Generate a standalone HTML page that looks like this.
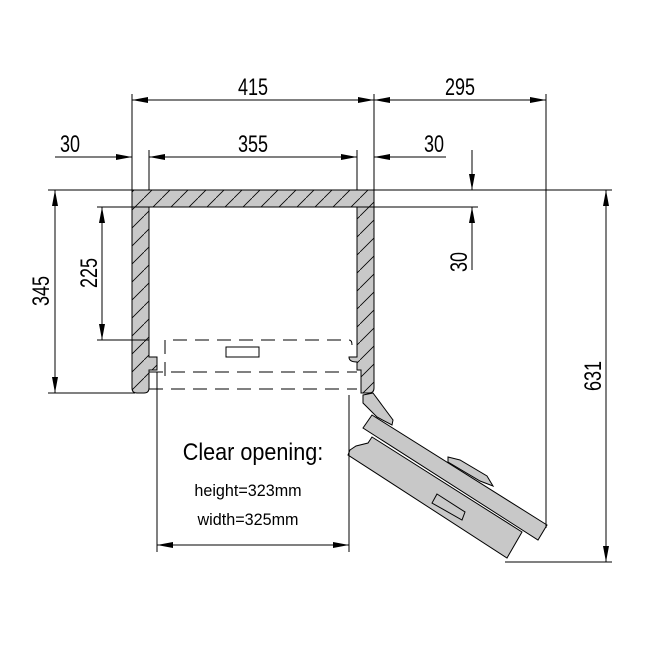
<!DOCTYPE html>
<html><head><style>body{margin:0;background:#fff}svg{display:block}text{font-family:"Liberation Sans",sans-serif;fill:#000}</style></head><body>
<svg width="666" height="666" viewBox="0 0 666 666" xmlns="http://www.w3.org/2000/svg">
<defs>
<pattern id="h" width="18" height="18" patternUnits="userSpaceOnUse">
<rect width="18" height="18" fill="#c8c8c8"/>
<line x1="0" y1="18" x2="18" y2="0" stroke="#000" stroke-width="0.8"/>
</pattern>
<marker id="a" markerWidth="16" markerHeight="6" refX="16" refY="3" orient="auto-start-reverse" markerUnits="userSpaceOnUse"><path d="M0,0 L16,3 L0,6z" fill="#000"/></marker>
</defs>
<g stroke="#000" stroke-width="1" fill="none">
<path d="M132,190 H374 V388 Q374,393 369,393 H361 V370 H357 V362 Q349,362 349,357 H357 V207 H149 V357 H157 V370 H149 V388 Q149,393 144,393 H137 Q132,393 132,388 Z" fill="url(#h)"/>
<path d="M165,376 V340 H349 Q352,340 352,345" stroke-dasharray="14,8"/>
<line x1="149" y1="372" x2="357" y2="372" stroke-dasharray="14,8"/>
<line x1="149" y1="389" x2="357" y2="389" stroke-dasharray="14,8"/>
<rect x="226" y="347" width="33" height="10"/>
<path d="M363,395 L373,393 L393,420 L392,425 L377,417 L363,403 Z" fill="#c8c8c8"/>
<path d="M350,450 L356,446 L368,443 L372,437 L522,532 L507,558 L348,455 Z" fill="#c8c8c8"/>
<path d="M372,415 L547,525 L538,540 L363,428 Z" fill="#c8c8c8"/>
<path d="M448,457 L460,460 L487,476 L493,486 L480,481 L448,462 Z" fill="#c8c8c8"/>
<path d="M437,494 L465,512 L462,520 L432,503 Z" fill="#c8c8c8"/>
<line x1="132" y1="94" x2="132" y2="190"/>
<line x1="374" y1="94" x2="374" y2="190"/>
<line x1="546" y1="94" x2="546" y2="528"/>
<line x1="149" y1="150" x2="149" y2="190"/>
<line x1="357" y1="150" x2="357" y2="190"/>
<line x1="48" y1="190" x2="612" y2="190"/>
<line x1="48" y1="393" x2="135" y2="393"/>
<line x1="97" y1="207" x2="478" y2="207"/>
<line x1="97" y1="340" x2="149" y2="340"/>
<line x1="505" y1="562" x2="612" y2="562"/>
<line x1="157" y1="372" x2="157" y2="552"/>
<line x1="349" y1="395" x2="349" y2="552"/>
<line x1="132" y1="100" x2="374" y2="100" marker-start="url(#a)" marker-end="url(#a)"/>
<line x1="374" y1="100" x2="546" y2="100" marker-start="url(#a)" marker-end="url(#a)"/>
<line x1="149" y1="157" x2="357" y2="157" marker-start="url(#a)" marker-end="url(#a)"/>
<line x1="55" y1="157" x2="132" y2="157" marker-end="url(#a)"/>
<line x1="446" y1="157" x2="374" y2="157" marker-end="url(#a)"/>
<line x1="472" y1="150" x2="472" y2="190" marker-end="url(#a)"/>
<line x1="472" y1="270" x2="472" y2="207" marker-end="url(#a)"/>
<line x1="55" y1="190" x2="55" y2="393" marker-start="url(#a)" marker-end="url(#a)"/>
<line x1="102" y1="207" x2="102" y2="340" marker-start="url(#a)" marker-end="url(#a)"/>
<line x1="606" y1="190" x2="606" y2="562" marker-start="url(#a)" marker-end="url(#a)"/>
<line x1="157" y1="545" x2="349" y2="545" marker-start="url(#a)" marker-end="url(#a)"/>
</g>
<g font-size="24">
<text text-anchor="middle" transform="translate(253 95) scale(0.75 1)">415</text>
<text text-anchor="middle" transform="translate(460 95) scale(0.75 1)">295</text>
<text text-anchor="middle" transform="translate(253 152) scale(0.75 1)">355</text>
<text text-anchor="middle" transform="translate(70 152) scale(0.75 1)">30</text>
<text text-anchor="middle" transform="translate(434 152) scale(0.75 1)">30</text>
<text transform="translate(467 262) rotate(-90) scale(0.75 1)" text-anchor="middle">30</text>
<text transform="translate(49 291) rotate(-90) scale(0.75 1)" text-anchor="middle">345</text>
<text transform="translate(97 273) rotate(-90) scale(0.75 1)" text-anchor="middle">225</text>
<text transform="translate(601 376) rotate(-90) scale(0.75 1)" text-anchor="middle">631</text>
<text transform="translate(253 460) scale(0.9 1)" text-anchor="middle">Clear opening:</text>
</g>
<text transform="translate(248 496) scale(0.95 1)" text-anchor="middle" font-size="17">height=323mm</text>
<text transform="translate(248 525) scale(0.95 1)" text-anchor="middle" font-size="17">width=325mm</text>
</svg>
</body></html>
